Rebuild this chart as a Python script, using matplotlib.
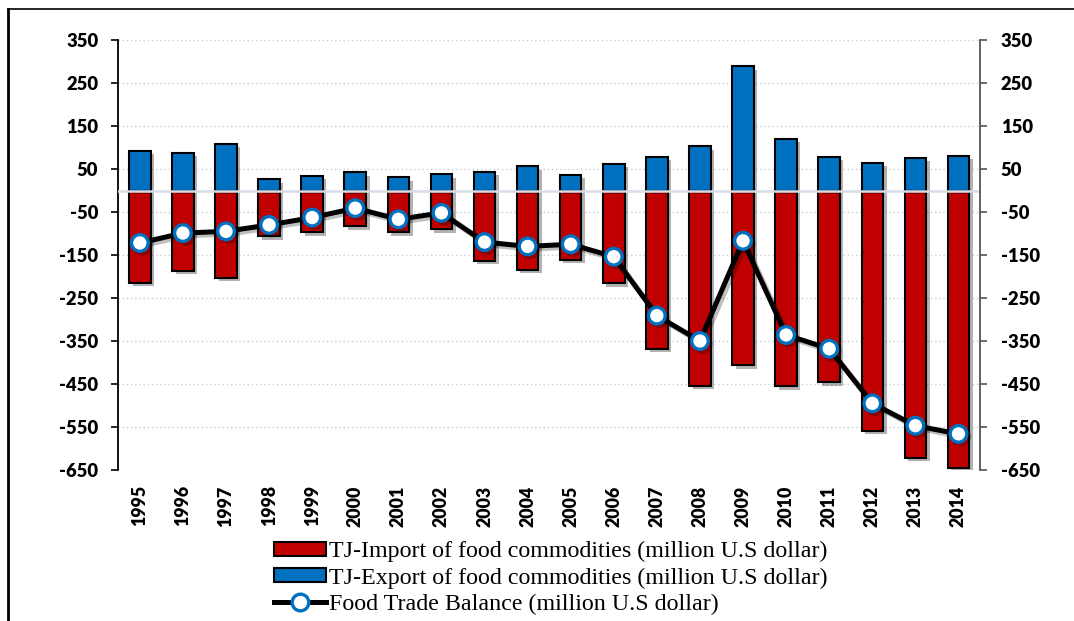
import matplotlib
matplotlib.use("Agg")
import matplotlib.pyplot as plt
import matplotlib.patheffects as pe
from matplotlib.lines import Line2D
from matplotlib.patches import Patch
import numpy as np

years = ["1995", "1996", "1997", "1998", "1999", "2000", "2001", "2002", "2003", "2004",
         "2005", "2006", "2007", "2008", "2009", "2010", "2011", "2012", "2013", "2014"]
imports = [-214, -187, -203, -106, -97, -83, -97, -90, -163, -184,
           -161, -216, -368, -454, -406, -455, -446, -559, -621, -646]
exports = [93, 88, 109, 26, 34, 42, 31, 38, 44, 56,
           37, 62, 78, 103, 289, 120, 78, 65, 76, 81]
balance = [-122, -99, -95, -80, -63, -41, -67, -52, -120, -130,
           -125, -154, -291, -350, -117, -336, -368, -495, -547, -566]
yticks = list(range(-650, 351, 100))

labels = ["TJ-Import of food commodities (million U.S dollar)",
          "TJ-Export of food commodities (million U.S dollar)",
          "Food Trade Balance (million U.S dollar)"]

RED = "#c00000"
BLUE = "#0070c0"
TICKFONT = "Lato"
TICKWEIGHT = "heavy"
W, H = 1074, 621

fig = plt.figure(figsize=(W / 100, H / 100), dpi=100)
ax = fig.add_axes([118.3 / W, 1 - 470 / H, (980 - 118.3) / W, 430 / H])

x = np.arange(len(years))
shadow = [pe.SimplePatchShadow(offset=(2.5, -2.5), shadow_rgbFace="black", alpha=0.3), pe.Normal()]
b1 = ax.bar(x, imports, width=0.5, color=RED, edgecolor="black", linewidth=1.5, zorder=3)
b2 = ax.bar(x, exports, width=0.5, color=BLUE, edgecolor="black", linewidth=1.5, zorder=3)
for b in list(b1) + list(b2):
    b.set_path_effects(shadow)

ax.axhline(0, color="#d9dee6", lw=1.8, zorder=4)

ax.plot(x, balance, color="black", lw=3.6, marker="o", markersize=12,
        markerfacecolor="white", markeredgecolor=BLUE, markeredgewidth=2.4, zorder=5,
        path_effects=[pe.SimpleLineShadow(offset=(2, -2), alpha=0.25), pe.Normal()])

ax.set_xlim(-0.5, len(years) - 0.5)
ax.set_ylim(-650, 350)
ax.set_yticks(yticks)
ax.set_yticklabels([str(v) for v in yticks], fontsize=13.2, fontweight=TICKWEIGHT, family=TICKFONT)
ax.set_xticks(x)
ax.set_xticklabels(years, rotation=90, fontsize=12.8, fontweight=TICKWEIGHT, family=TICKFONT)
ax.tick_params(axis="x", length=0, pad=11)
ax.tick_params(axis="y", length=5, width=1.2, direction="out", pad=9.5, colors="black")
ax.grid(axis="y", color="#c8ced8", linestyle=(0, (1, 2)), lw=1.0, zorder=0)

for s in ["top", "bottom", "right"]:
    ax.spines[s].set_visible(False)
ax.spines["left"].set_linewidth(1.3)

ax2 = ax.twinx()
ax2.set_ylim(-650, 350)
ax2.set_yticks(yticks)
ax2.set_yticklabels([str(v) for v in yticks], fontsize=13.2, fontweight=TICKWEIGHT, family=TICKFONT)
ax2.tick_params(axis="y", length=5, width=1.2, direction="out", pad=10, color="#555555")
for s in ["top", "bottom", "left"]:
    ax2.spines[s].set_visible(False)
ax2.spines["right"].set_linewidth(1.3)
ax2.spines["right"].set_color("#555555")

handles = [Patch(facecolor=RED, edgecolor="black", linewidth=1.5),
           Patch(facecolor=BLUE, edgecolor="black", linewidth=1.5),
           Line2D([0], [0], color="black", lw=3.6, marker="o", markersize=12,
                  markerfacecolor="white", markeredgecolor=BLUE, markeredgewidth=2.4)]
fig.legend(handles, labels, loc="upper left", bbox_to_anchor=(274 / W, 1 - 541 / H),
           frameon=False, prop={"family": "Liberation Serif", "size": 17.3},
           handlelength=2.15, handleheight=0.5, handletextpad=0.15, labelspacing=0.22,
           borderpad=0, borderaxespad=0)

# outer frame (top and left lines)
fig.add_artist(Line2D([8 / W, 1.0], [1 - 9 / H, 1 - 9 / H], color="black", lw=1.2,
                      transform=fig.transFigure))
fig.add_artist(Line2D([8.3 / W, 8.3 / W], [1 - 9 / H, 0], color="black", lw=2.0,
                      transform=fig.transFigure))

fig.savefig("out.png", dpi=100)
